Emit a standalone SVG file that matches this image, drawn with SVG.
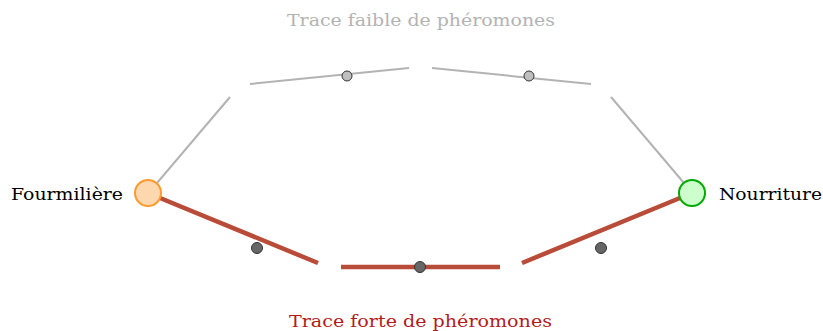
<svg xmlns="http://www.w3.org/2000/svg" width="823" height="331" viewBox="0 0 823 331">
<style>
text{font-family:"DejaVu Serif","Liberation Serif",serif;font-size:16px}
.weak{stroke:#b3b3b3;stroke-width:2;fill:none}
.strong{stroke:#b94b39;stroke-width:4.5;fill:none}
.wd{fill:#bfbfbf;stroke:#333;stroke-width:1}
.sd{fill:#666;stroke:#333;stroke-width:1}
</style>
<rect width="823" height="331" fill="#fff"/>
<g id="connectors">
<line class="weak" x1="157" y1="183" x2="230" y2="97"/>
<line class="weak" x1="250" y1="84" x2="409" y2="68"/>
<line class="weak" x1="432" y1="68" x2="591" y2="84"/>
<line class="weak" x1="611" y1="97" x2="684" y2="183"/>
<line class="strong" x1="160" y1="198" x2="318" y2="263"/>
<line class="strong" x1="341" y1="267" x2="500" y2="267"/>
<line class="strong" x1="522" y1="263" x2="680" y2="198"/>
<circle class="wd" cx="347" cy="76" r="5"/>
<circle class="wd" cx="529" cy="76" r="5"/>
<circle class="sd" cx="257" cy="248" r="5.5"/>
<circle class="sd" cx="420" cy="267" r="5.5"/>
<circle class="sd" cx="601" cy="248" r="5.5"/>
</g>
<g id="fourmiliere">
<circle cx="148" cy="193" r="13" fill="#ffd8b0" stroke="#ff9a2e" stroke-width="2"/>
<text x="123" y="200" text-anchor="end" textLength="112" lengthAdjust="spacingAndGlyphs">Fourmilière</text>
</g>
<g id="nourriture">
<circle cx="692" cy="193" r="13" fill="#ccffcc" stroke="#00aa00" stroke-width="2"/>
<text x="719" y="200" textLength="103" lengthAdjust="spacingAndGlyphs">Nourriture</text>
</g>
<g id="label-faible">
<text x="287" y="26" fill="#b3b3b3" textLength="268" lengthAdjust="spacingAndGlyphs">Trace faible de phéromones</text>
</g>
<g id="label-forte">
<text x="289" y="327" fill="#b31b1b" textLength="263" lengthAdjust="spacingAndGlyphs">Trace forte de phéromones</text>
</g>
</svg>
